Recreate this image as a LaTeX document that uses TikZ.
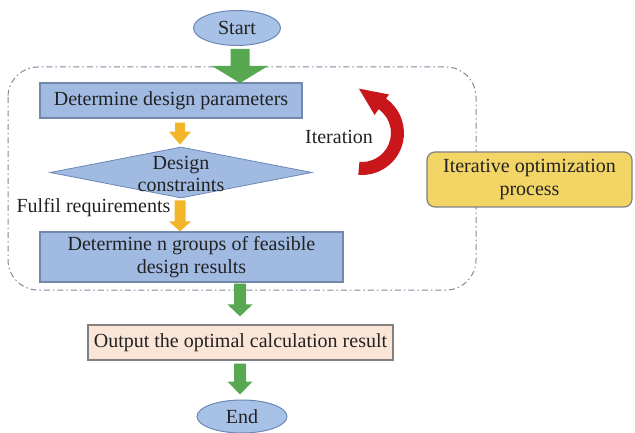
\documentclass[tikz,border=0pt]{standalone}
\usepackage{fontspec}
\setmainfont{Liberation Serif}
\usetikzlibrary{shapes.geometric,calc}
\definecolor{boxblue}{HTML}{A0BAE2}
\definecolor{boxline}{HTML}{7389AA}
\definecolor{ellblue}{HTML}{A8C1E7}
\definecolor{ellline}{HTML}{6C87B6}
\definecolor{arrgreen}{HTML}{58A852}
\definecolor{arrorange}{HTML}{F3B52A}
\definecolor{iterred}{HTML}{C8161B}
\definecolor{yellowbox}{HTML}{F3D566}
\definecolor{peach}{HTML}{FBE5D6}
\definecolor{frameline}{HTML}{7D8A9C}
\definecolor{txt}{HTML}{222222}
\newcommand{\blockarrow}[6]{\fill[#6] let \p1=(#1), \p2=(#2) in
  (\x1-#3pt,\y1) -- (\x1-#3pt,\y2+#5pt) -- (\x1-#4pt,\y2+#5pt) -- (\x1,\y2)
  -- (\x1+#4pt,\y2+#5pt) -- (\x1+#3pt,\y2+#5pt) -- (\x1+#3pt,\y1) -- cycle;}
\begin{document}
\begin{tikzpicture}[x=1pt,y=-1pt,
  font=\fontsize{20}{22.5}\selectfont, text=txt,
  term/.style={ellipse, fill=ellblue, draw=ellline, line width=1pt, inner sep=0pt},
  pbox/.style={rectangle, fill=boxblue, draw=boxline, line width=1.2pt, inner sep=0pt, align=center},
  dia/.style={diamond, fill=boxblue, draw=ellline, line width=0.8pt, inner sep=0pt},
  ybox/.style={rectangle, rounded corners=8pt, fill=yellowbox, draw=gray, line width=1.2pt, inner sep=0pt, align=center},
  obox/.style={rectangle, fill=peach, draw=gray, line width=1.2pt, inner sep=0pt},
  frame/.style={draw=frameline, line width=1pt, rounded corners=30pt, dash pattern=on 6pt off 3pt on 1.5pt off 3pt},
  lbl/.style={inner sep=0pt, align=center}]
\useasboundingbox (0,0) rectangle (635,433);
\draw[frame] (8,67) rectangle (476,290);
\node[term, minimum width=87pt, minimum height=35pt] (start) at (237,28) {Start};
\node[pbox, minimum width=262pt, minimum height=35pt] (dp) at (171,100.5) {Determine design parameters};
\node[dia, minimum width=262pt, minimum height=51pt] (dc) at (181,172.5) {};
\node[lbl] (dctext) at (181,174) {Design\\constraints};
\node[pbox, minimum width=303pt, minimum height=50pt] (ng) at (191.5,257) {Determine n groups of feasible\\design results};
\node[lbl] (fr) at (93.5,208) {Fulfil requirements};
\node[lbl] (it) at (339,137) {Iteration};
\node[ybox, minimum width=205pt, minimum height=55pt] (iop) at (529.5,179.5) {Iterative optimization\\process};
\node[obox, minimum width=305pt, minimum height=35pt] (out) at (240.5,342.5) {Output the optimal calculation result};
\node[term, minimum width=90pt, minimum height=33pt] (end) at (242,416.5) {End};
% block arrows
\blockarrow{$(start.south)+(3,3)$}{$(start.south-|240,0)+(0,37)$}{9.5}{28}{17}{arrgreen}
\blockarrow{$(dc.north|-dp.south)+(-1,4)$}{$(dc.north)+(-1,-2)$}{5}{11}{13}{arrorange}
\blockarrow{$(dc.south)+(-1,2)$}{$(dc.south|-ng.north)+(-1,0)$}{5.5}{11}{10}{arrorange}
\blockarrow{$(240,0|-ng.south)+(0,1)$}{$(240,0|-out.north)+(0,-8)$}{6}{12.5}{12}{arrgreen}
\blockarrow{$(240,0|-out.south)+(0,3)$}{$(240,0|-end.north)+(0,-5)$}{6}{12.5}{13}{arrgreen}
% iteration arrow
\fill[iterred] (358.3,174.8) arc[start angle=-95,end angle=55,radius=42pt]
  -- (389,94.5) -- (358.9,88.6) -- (374.6,115) -- (378.6,109.2)
  arc[start angle=55,end angle=-95,radius=29pt] -- cycle;
\end{tikzpicture}
\end{document}
